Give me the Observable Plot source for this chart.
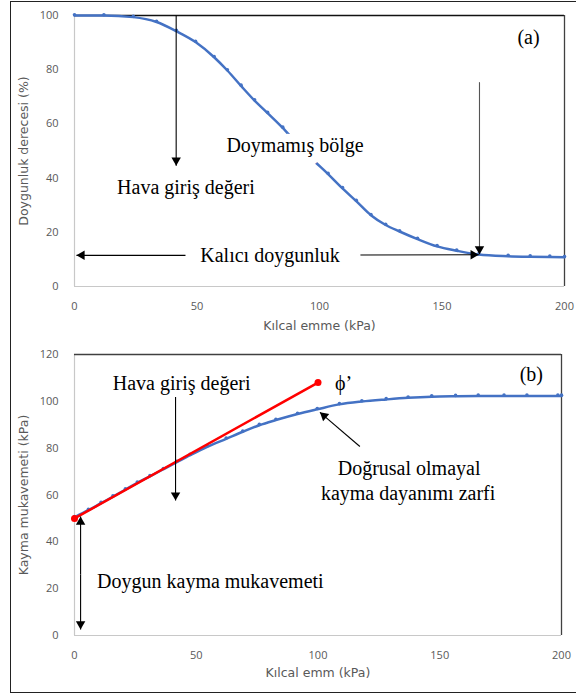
<!DOCTYPE html>
<html><head><meta charset="utf-8">
<script src="https://cdn.jsdelivr.net/npm/d3@7"></script>
<script src="https://cdn.jsdelivr.net/npm/@observablehq/plot@0.6"></script>
<style>
body{margin:0;background:#fff;}
#wrap{position:relative;width:576px;height:695px;overflow:hidden;background:#fff;}
#frame{position:absolute;left:10px;top:1px;width:620px;height:692px;border:1.5px solid #222;box-sizing:border-box;pointer-events:none;}
svg{display:block}
</style></head><body>
<div id="wrap"><div id="charts"></div><div id="frame"></div></div>
<script>
// ---------- data ----------
const xTicks = [0, 50, 100, 150, 200];
const yTicksA = [0, 20, 40, 60, 80, 100];
const yTicksB = [0, 20, 40, 60, 80, 100, 120];

// (a) degree of saturation vs suction
const suctionA = [0, 12, 24, 33.5, 41.6, 49.4, 57, 62.4, 68, 73.5, 78.8, 85, 91, 97.6, 103.5, 109.4, 115, 121, 127, 132.7, 140, 148, 156, 165, 177, 186, 194, 200];
const saturationA = [100, 100, 99.4, 97.6, 94.2, 90.2, 84.6, 79.7, 74, 68.6, 64, 58.5, 52.5, 46.5, 41.5, 36.2, 31.5, 26.3, 22.7, 20.3, 17.5, 14.8, 13.2, 11.8, 11.2, 11, 10.9, 10.8];

// (b) shear strength vs suction
const suctionB = [0, 5.7, 10.9, 15.8, 20.9, 25.8, 31, 36.5, 42, 47.5, 54.5, 62.3, 69.1, 75.9, 82.7, 91.6, 99.7, 108.8, 118, 128, 137, 146.7, 156.5, 165.8, 176.4, 185.8, 198.5, 200];
const shearB = [50.5, 53.5, 56.5, 59.3, 62.3, 65.2, 68, 71, 74, 77, 80.6, 84, 87, 89.8, 92, 94.6, 96.6, 98.7, 99.9, 100.8, 101.5, 102, 102.2, 102.3, 102.3, 102.3, 102.3, 102.3];
const envelopeX = [0, 100];
const envelopeY = [50, 108];

// axis titles
const xTitleA = "Kılcal emme (kPa)";
const yTitleA = "Doygunluk derecesi (%)";
const xTitleB = "Kılcal emm (kPa)";
const yTitleB = "Kayma mukavemeti (kPa)";

// annotations (a)
const labelsA = ["Hava giriş değeri", "Doymamış bölge", "Kalıcı doygunluk", "(a)"];
const labelXA = [45.5, 90, 79.8, 185.3];
const labelYA = [36.5, 52, 11.4, 91.9];
// arrows (a): tail -> tip
const arrowTailXA = [41.5, 45.3, 116.7, 165.3];
const arrowTailYA = [100, 11.5, 11.6, 75.4];
const arrowTipXA = [41.5, 0.8, 165, 165.3];
const arrowTipYA = [44.6, 11.5, 11.7, 11.8];
const arrowColorA = ["#000", "#000", "#000", "#555"];

// annotations (b)
const labelsB = ["Hava giriş değeri", "(b)", "Doğrusal olmayal", "kayma dayanımı zarfi", "Doygun kayma mukavemeti"];
const labelXB = [44, 187.6, 137.4, 137, 55.8];
const labelYB = [107.7, 111.3, 71.2, 60.5, 23.2];
const phiLabel = "ϕ’";
const phiX = 107, phiY = 107.6;
const arrowTailXB = [41.5, 117.2, 2.5, 2.5];
const arrowTailYB = [101.8, 80.7, 26, 26];
const arrowTipXB = [41.5, 100.8, 2.5, 2.5];
const arrowTipYB = [57.6, 95.3, 50.8, 2.6];

// ---------- helpers ----------
const BLUE = "#4472C4", RED = "#FF0000";
const serif = "'Liberation Serif', 'Times New Roman', serif";
const sans = "'DejaVu Sans', sans-serif";

function arrowMarks(tx, ty, px, py, colors, kx, ky) {
  const marks = [];
  tx.forEach((_, i) => {
    const col = colors ? colors[i] : "#000";
    marks.push(Plot.link([0], {x1: () => tx[i], y1: () => ty[i], x2: () => px[i], y2: () => py[i], stroke: col, strokeWidth: 1.1}));
    const dxp = (px[i] - tx[i]) * kx, dyp = -(py[i] - ty[i]) * ky;
    const th = Math.atan2(dxp, -dyp);
    const r = 3.5, L = 2 * Math.sqrt(Math.PI * r * r / (Math.sqrt(3) * 3));
    marks.push(Plot.dot([0], {x: () => px[i], y: () => py[i], symbol: "triangle", r, fill: "#000", stroke: "none",
      rotate: th * 180 / Math.PI, dx: -L * Math.sin(th), dy: L * Math.cos(th)}));
  });
  return marks;
}

function titles(xt, yt, xdy) {
  return [
    Plot.text([xt], {frameAnchor: "bottom", textAnchor: "middle", lineAnchor: "middle", text: d => d, dy: xdy, fontFamily: sans, fontSize: 12.5, fill: "#595959"}),
    Plot.text([yt], {frameAnchor: "left", textAnchor: "middle", lineAnchor: "middle", text: d => d, rotate: -90, dx: -51, fontFamily: sans, fontSize: 12.5, fill: "#595959"})
  ];
}

// ---------- chart (a) ----------
const dataA = suctionA.map((x, i) => ({x, y: saturationA[i]}));
const WA = 576, HA = 340, mlA = 74, mrA = 12, mtA = 15, mbA = 54;
const kxA = (WA - mlA - mrA) / 200, kyA = (HA - mtA - mbA) / 100;
const chartA = Plot.plot({
  width: WA, height: HA, marginLeft: mlA, marginRight: mrA, marginTop: mtA, marginBottom: mbA,
  style: {fontFamily: "'Open Sans', sans-serif", fontSize: "11px", color: "#595959", background: "transparent"},
  x: {domain: [0, 200]}, y: {domain: [0, 100]},
  marks: [
    Plot.axisX({ticks: xTicks, tickSize: 0, tickPadding: 16, label: null}),
    Plot.axisY({ticks: yTicksA, tickSize: 0, tickPadding: 16, label: null}),
    ...titles(xTitleA, yTitleA, 39),
    Plot.ruleX([0], {stroke: "#c8c8c8", strokeWidth: 1.2}),
    Plot.ruleY([0], {stroke: "#c8c8c8", strokeWidth: 1.2}),
    Plot.ruleY([100], {stroke: "#111", strokeWidth: 1.3}),
    Plot.ruleX([200], {stroke: "#404040", strokeWidth: 1.3}),
    Plot.line(dataA, {x: "x", y: "y", curve: "monotone-x", stroke: BLUE, strokeWidth: 2.5}),
    Plot.dot(dataA, {x: "x", y: "y", r: 1.8, fill: BLUE, dy: -0.8}),
    ...arrowMarks(arrowTailXA, arrowTailYA, arrowTipXA, arrowTipYA, arrowColorA, kxA, kyA),
    Plot.text(labelsA, {x: (d, i) => labelXA[i], y: (d, i) => labelYA[i], text: d => d, fontFamily: serif, fontSize: 20, fill: "#000",
      stroke: (d, i) => i === 1 ? "white" : "none", strokeWidth: 16, strokeLinejoin: "miter"})
  ]
});

// ---------- chart (b) ----------
const dataB = suctionB.map((x, i) => ({x, y: shearB[i]}));
const envB = envelopeX.map((x, i) => ({x, y: envelopeY[i]}));
const WB = 576, HB = 355, mlB = 74, mrB = 15, mtB = 14, mbB = 60;
const kxB = (WB - mlB - mrB) / 200, kyB = (HB - mtB - mbB) / 120;
const chartB = Plot.plot({
  width: WB, height: HB, marginLeft: mlB, marginRight: mrB, marginTop: mtB, marginBottom: mbB,
  style: {fontFamily: "'Open Sans', sans-serif", fontSize: "11px", color: "#595959", background: "transparent"},
  x: {domain: [0, 200]}, y: {domain: [0, 120]},
  marks: [
    Plot.axisX({ticks: xTicks, tickSize: 0, tickPadding: 16, label: null}),
    Plot.axisY({ticks: yTicksB, tickSize: 0, tickPadding: 16, label: null}),
    ...titles(xTitleB, yTitleB, 37),
    Plot.ruleX([0], {stroke: "#c8c8c8", strokeWidth: 1.2}),
    Plot.ruleY([0], {stroke: "#c8c8c8", strokeWidth: 1.2}),
    Plot.ruleY([120], {stroke: "#404040", strokeWidth: 1.3}),
    Plot.ruleX([200], {stroke: "#404040", strokeWidth: 1.3}),
    Plot.line(dataB, {x: "x", y: "y", curve: "monotone-x", stroke: BLUE, strokeWidth: 2.5}),
    Plot.dot(dataB, {x: "x", y: "y", r: 1.8, fill: BLUE, dy: -0.8}),
    Plot.line(envB, {x: "x", y: "y", stroke: RED, strokeWidth: 2.5}),
    Plot.dot(envB, {x: "x", y: "y", r: 3.5, fill: RED}),
    ...arrowMarks(arrowTailXB, arrowTailYB, arrowTipXB, arrowTipYB, null, kxB, kyB),
    Plot.text(labelsB, {x: (d, i) => labelXB[i], y: (d, i) => labelYB[i], text: d => d, fontFamily: serif, fontSize: 20, fill: "#000"}),
    Plot.text([phiLabel], {x: () => phiX, y: () => phiY, text: d => d, textAnchor: "start", fontFamily: serif, fontSize: 20, fill: "#000"})
  ]
});

const holder = document.getElementById("charts");
holder.appendChild(chartA);
holder.appendChild(chartB);
</script>
</body></html>
